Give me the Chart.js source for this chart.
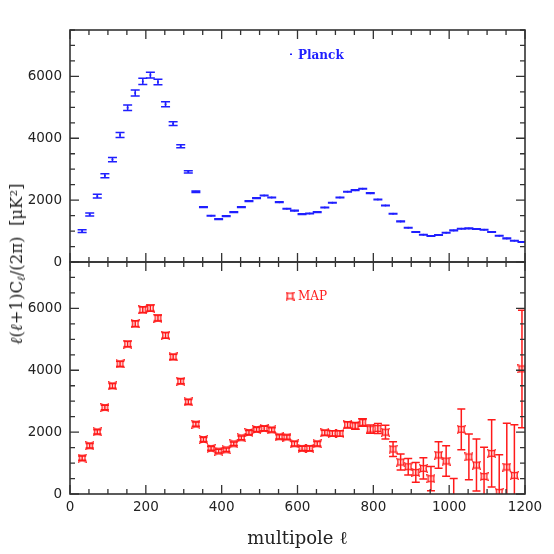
<!DOCTYPE html>
<html><head><meta charset="utf-8">
<script src="https://cdn.jsdelivr.net/npm/chart.js@4/dist/chart.umd.min.js"></script>
<style>
html,body{margin:0;padding:0;background:#fff;}
#wrap{position:relative;width:554px;height:554px;overflow:hidden;}
#c{position:absolute;left:0;top:0;}
#ytitle{position:absolute;left:18px;top:264px;transform:translate(-50%,-50%) rotate(-90deg);font-family:"DejaVu Serif",serif;font-size:16.5px;white-space:nowrap;color:#222;line-height:1;}
#ytitle sub{font-size:11px;vertical-align:-3px;}
</style></head>
<body><div id="wrap"><canvas id="c" width="554" height="554"></canvas>
<div id="ytitle"><i>ℓ</i>(<i>ℓ</i>+1)C<sub><i>ℓ</i></sub>/(2π)&nbsp;&nbsp;[μK²]</div></div>
<script>
const ell = [32,52,72,92,112,132,152,172,192,212,232,252,272,292,312,332,352,372,392,412,432,452,472,492,512,532,552,572,592,612,632,652,672,692,712,732,752,772,792,812,832,852,872,892,912,932,952,972,992,1012,1032,1052,1072,1092,1112,1132,1152,1172,1192];
const planckCl = [1000,1538,2129,2785,3312,4108,4989,5462,5839,6043,
  5817,5097,4473,3742,2914,2269,1774,1495,1387,1484,
  1613,1774,1968,2065,2150,2086,1935,1720,1660,1548,
  1570,1613,1763,1914,2086,2269,2323,2366,2226,2022,
  1828,1559,1312,1108,968,882,839,871,946,1022,
  1075,1086,1065,1043,968,850,763,688,645];
const planckErr = [45,50,60,65,70,80,90,95,100,95,
  90,80,60,45,35,25,15,10,10,10,
  10,10,10,10,10,10,10,10,10,10,
  10,10,10,10,10,10,10,10,10,10,
  10,10,10,10,10,10,10,10,10,10,
  10,10,10,10,10,10,10,10,10];
const mapCl = [1161,1559,2011,2796,3495,4204,4849,5505,5957,6011,
  5688,5129,4430,3645,2978,2258,1763,1473,1387,1430,
  1624,1817,1989,2086,2118,2075,1849,1839,1624,1473,
  1473,1624,1978,1957,1957,2237,2204,2312,2097,2118,
  2000,1452,1032,882,699,828,495,1260,1065,-150,
  2090,1200,935,565,1312,54,871,602,4043];
const mapErr = [70,70,70,75,80,85,90,95,100,100,
  95,90,85,80,75,70,65,60,60,60,
  60,60,65,65,70,70,70,70,70,70,
  75,75,80,85,90,100,110,120,130,160,
  220,240,260,265,320,345,390,430,494,650,
  656,740,840,946,1086,1215,1420,1635,1900];
const xTickValues = [0,200,400,600,800,1000,1200];
const yTickValues = [0,2000,4000,6000];
const seriesNames = ['Planck','MAP'];

const BLUE = '#1f1fff', RED = '#ff1a1a';

function makeMapMarker(){
  const c=document.createElement('canvas'); c.width=9; c.height=9;
  const g=c.getContext('2d'); g.strokeStyle=RED; g.lineWidth=1.4;
  g.beginPath(); g.moveTo(1,1); g.quadraticCurveTo(4.5,2.8,8,1); g.quadraticCurveTo(6.2,4.5,8,8);
  g.quadraticCurveTo(4.5,6.2,1,8); g.quadraticCurveTo(2.8,4.5,1,1); g.closePath(); g.stroke();
  return c;
}
const mapMarker = makeMapMarker();

const tickFont = {family:'DejaVu Sans', size:13.5};
function yScale(){
  return {type:'linear', position:'left', stack:'v', stackWeight:1, min:0, max:7500,
    grid:{display:false, drawTicks:false}, border:{display:false},
    afterBuildTicks(s){ s.ticks = yTickValues.map(v=>({value:v})); },
    ticks:{padding:8, font:tickFont, color:'#222', callback:v=>String(v)},
    afterFit(s){ s.width = 70; }};
}

const panelPlugin = {
  id:'panels',
  beforeDatasetsDraw(chart){
    const ctx=chart.ctx, xs=chart.scales.x, ca=chart.chartArea;
    chart.data.datasets.forEach(ds=>{
      const ys=chart.scales[ds.yAxisID];
      ctx.save(); ctx.beginPath(); ctx.rect(ca.left, ys.top, ca.right-ca.left, ys.bottom-ys.top); ctx.clip();
      ctx.strokeStyle=ds.errColor; ctx.lineWidth=ds.errWidth;
      ds.data.forEach((p,i)=>{
        const px=xs.getPixelForValue(p.x);
        const hi=ys.getPixelForValue(p.y+ds.errs[i]);
        const lo=ys.getPixelForValue(p.y-ds.errs[i]);
        const w=ds.capHalf;
        ctx.beginPath();
        ctx.moveTo(px,hi); ctx.lineTo(px,lo);
        ctx.moveTo(px-w,hi); ctx.lineTo(px+w,hi);
        ctx.moveTo(px-w,lo); ctx.lineTo(px+w,lo);
        ctx.stroke();
      });
      ctx.restore();
    });
  },
  afterDraw(chart){
    const ctx=chart.ctx, xs=chart.scales.x, ca=chart.chartArea;
    ctx.save();
    ['yTop','yBot'].forEach(id=>{
      const ys=chart.scales[id]; const L=ca.left, R=ca.right, T=ys.top, B=ys.bottom;
      ctx.strokeStyle='#333'; ctx.lineWidth=1.3;
      ctx.beginPath();
      for(let v=0; v<=1200; v+=50){
        const px=xs.getPixelForValue(v); const len=(v%200===0)?9:5;
        ctx.moveTo(px,B); ctx.lineTo(px,B-len); ctx.moveTo(px,T); ctx.lineTo(px,T+len);
      }
      for(let v=0; v<=7500; v+=500){
        const py=ys.getPixelForValue(v); const len=(v%2000===0)?9:5;
        ctx.moveTo(L,py); ctx.lineTo(L+len,py); ctx.moveTo(R,py); ctx.lineTo(R-len,py);
      }
      ctx.stroke();
      ctx.lineWidth=1.6; ctx.strokeRect(L,T,R-L,B-T);
    });
    // legends
    const yt=chart.scales.yTop, yb=chart.scales.yBot;
    ctx.fillStyle=BLUE;
    ctx.fillRect(ca.left+220, yt.top+23.5, 2, 1.5);
    ctx.font='bold 12px "DejaVu Serif"'; ctx.textBaseline='alphabetic';
    ctx.fillText(seriesNames[0], ca.left+228, yt.top+28.5);
    ctx.drawImage(mapMarker, ca.left+215.5, yb.top+29.5);
    ctx.fillStyle=RED; ctx.font='12px "DejaVu Serif"';
    ctx.fillText(seriesNames[1], ca.left+228, yb.top+38);
    ctx.restore();
  }
};

new Chart(document.getElementById('c'), {
  type:'scatter',
  data:{datasets:[
    {label:seriesNames[0], yAxisID:'yTop', data:ell.map((x,i)=>({x, y:planckCl[i]})),
     errs:planckErr, errColor:BLUE, errWidth:1.5, capHalf:4.5,
     pointRadius:1, pointBackgroundColor:BLUE, pointBorderWidth:0, clip:0},
    {label:seriesNames[1], yAxisID:'yBot', data:ell.map((x,i)=>({x, y:mapCl[i]})),
     errs:mapErr, errColor:RED, errWidth:1.5, capHalf:4,
     pointStyle:mapMarker, pointRadius:5, clip:0}
  ]},
  options:{
    responsive:false, animation:false, devicePixelRatio:1,
    layout:{padding:{top:30, right:29, left:0, bottom:0}},
    plugins:{legend:{display:false}, tooltip:{enabled:false}},
    scales:{
      x:{type:'linear', position:'bottom', min:0, max:1200,
        grid:{display:false, drawTicks:false}, border:{display:false},
        afterBuildTicks(s){ s.ticks = xTickValues.map(v=>({value:v})); },
        ticks:{padding:5, font:tickFont, color:'#222', maxRotation:0, autoSkip:false, callback:v=>String(v)},
        title:{display:true, text:'multipole ℓ', font:{family:'DejaVu Serif', size:18}, color:'#222', padding:{top:10,bottom:4}},
        afterFit(s){ s.height = 60; }},
      yBot: yScale(),
      yTop: yScale()
    }
  },
  plugins:[panelPlugin]
});
</script></body></html>
